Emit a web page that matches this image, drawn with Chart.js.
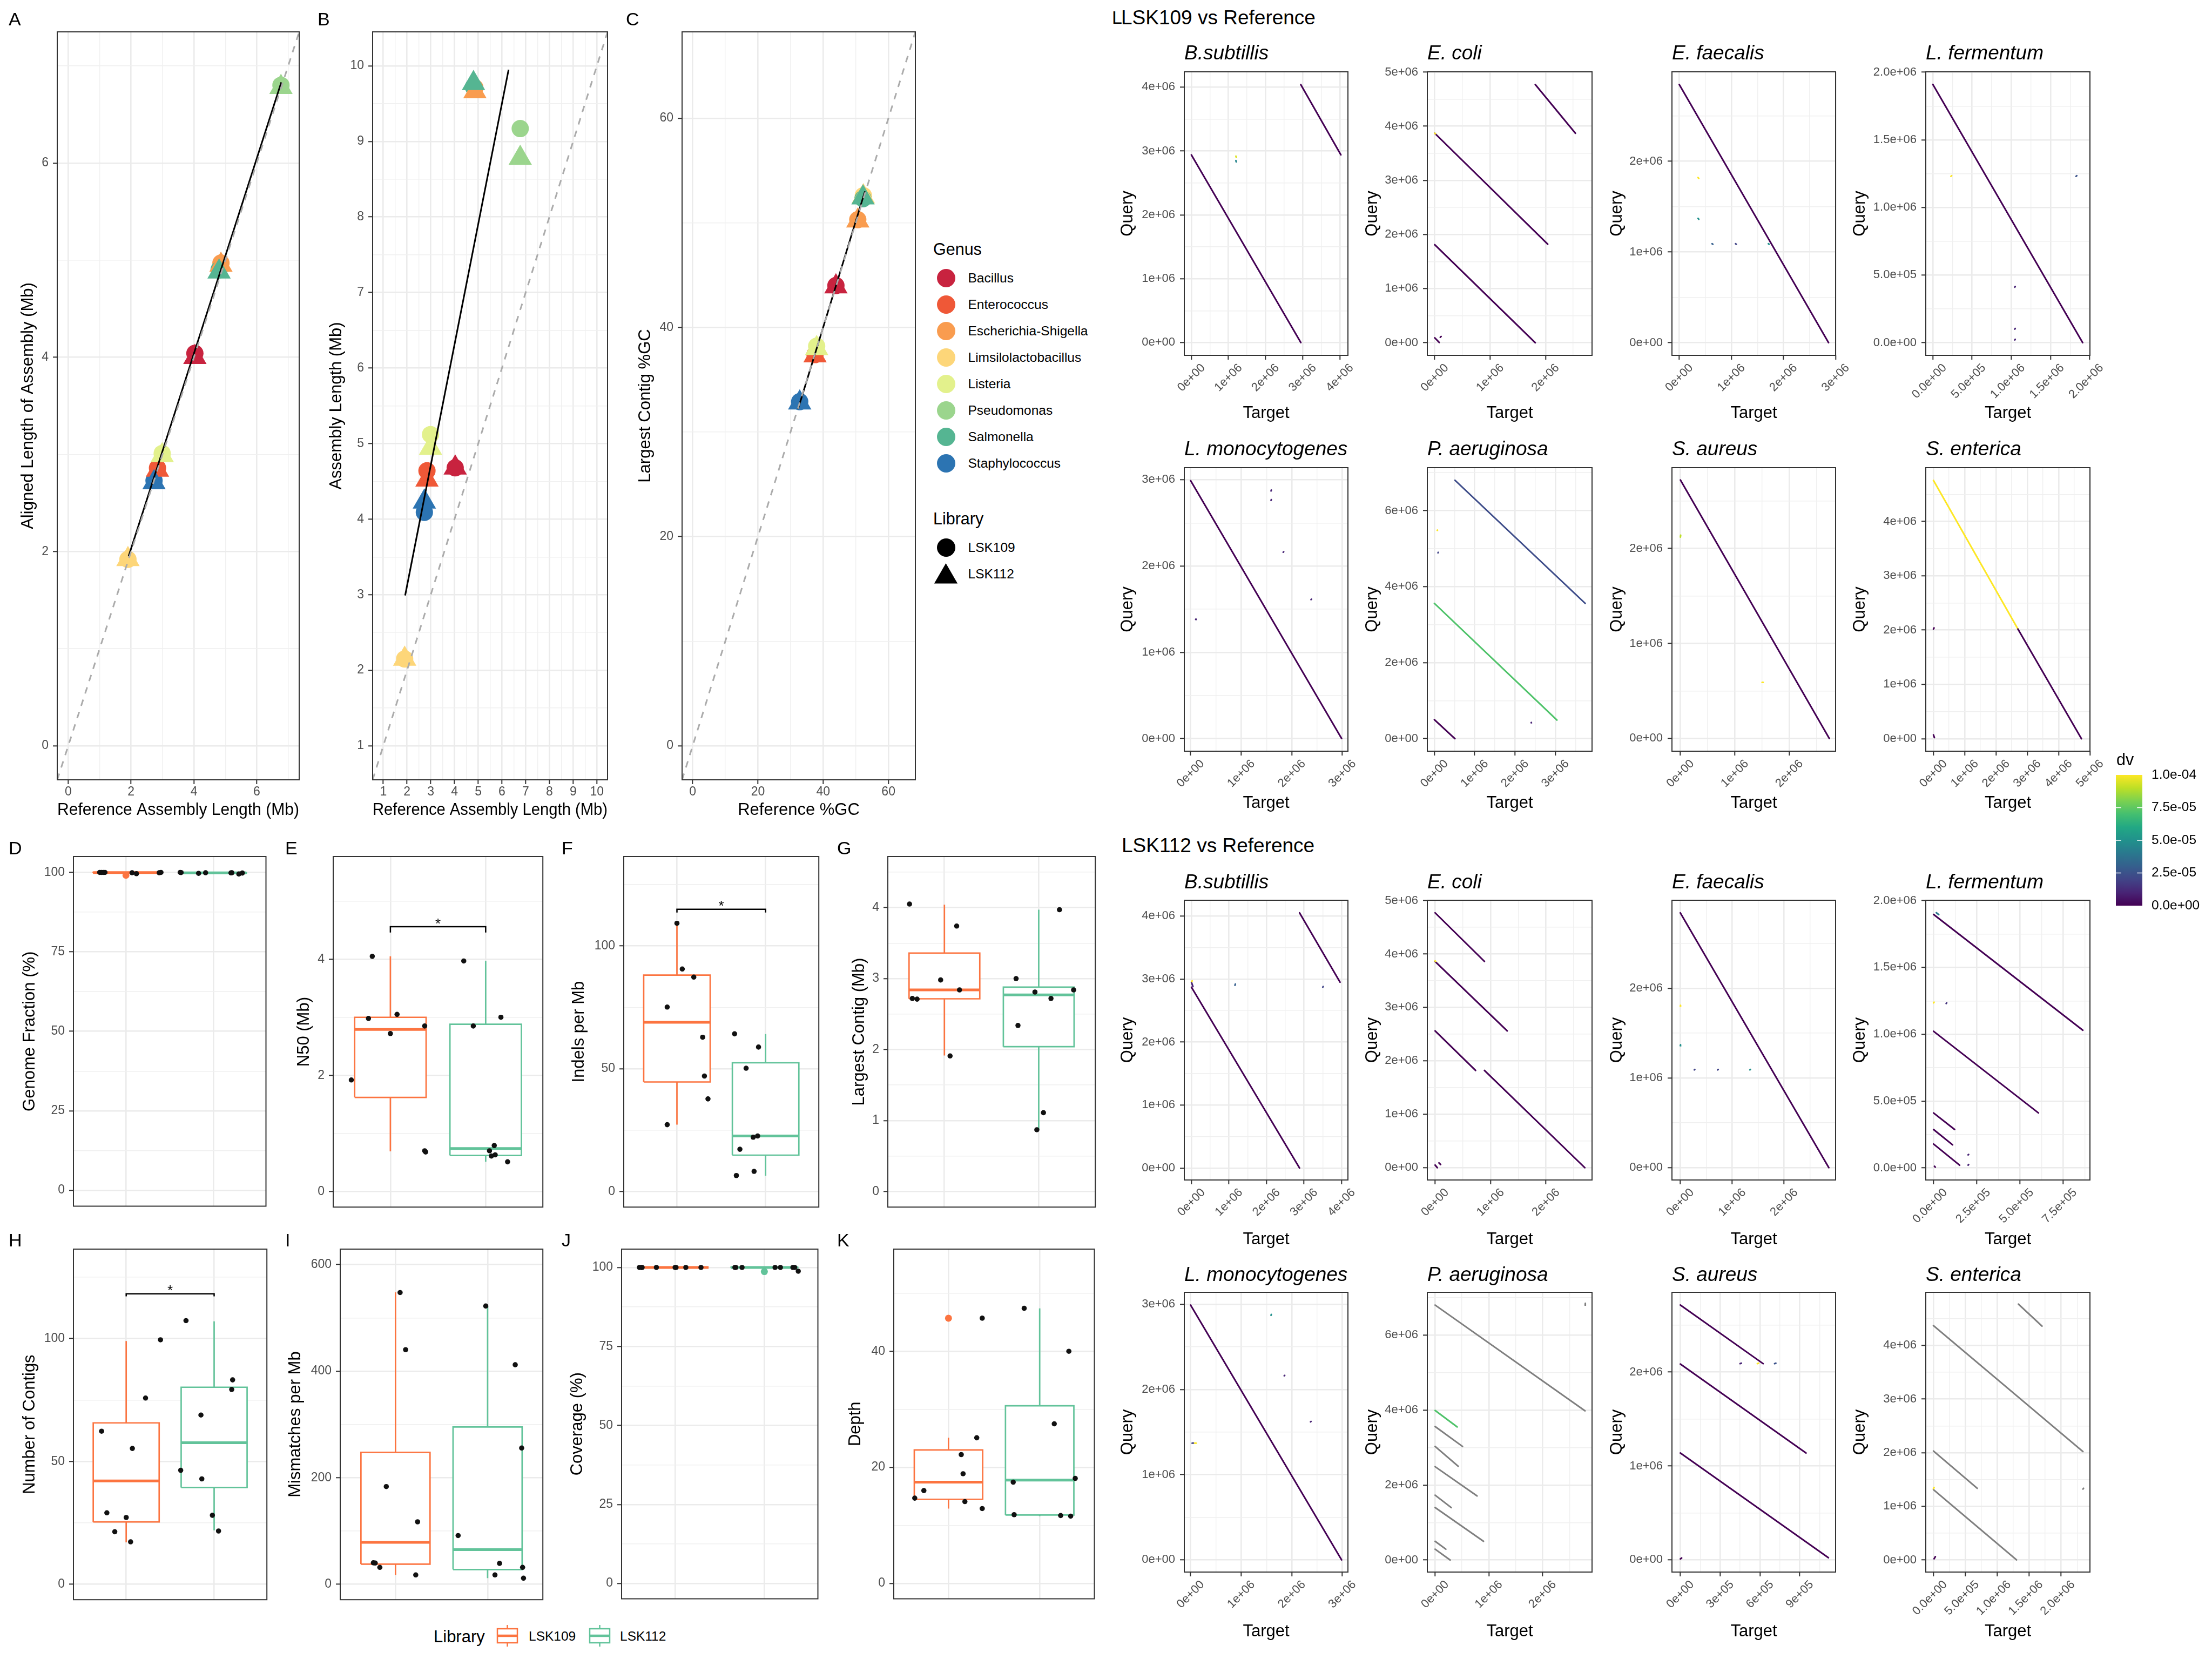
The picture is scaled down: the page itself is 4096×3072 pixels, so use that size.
<!DOCTYPE html>
<html><head><meta charset="utf-8"><title>Assembly comparison</title>
<script src="https://cdn.jsdelivr.net/npm/chart.js@4.4.1/dist/chart.umd.min.js"></script>
<style>
html,body{margin:0;padding:0;background:#fff;}
#root{position:relative;width:4096px;height:3072px;overflow:hidden;background:#fff;font-family:"Liberation Sans",Arial,Helvetica,sans-serif;}
#root canvas{position:absolute;}
.t{position:absolute;white-space:nowrap;line-height:1;color:#000;}
.m{position:absolute;}
</style></head>
<body><div id="root"></div>
<script>
// ================= DATA =================
const genera = ['Bacillus','Enterococcus','Escherichia-Shigella','Limsilolactobacillus','Listeria','Pseudomonas','Salmonella','Staphylococcus'];
const genusColors = ['#C8233F','#EF5837','#F99C4F','#FDD679','#E3F18C','#9BD58D','#55B592','#2C74B2'];
const libraries = ['LSK109','LSK112'];
const libraryColors = ['#FC7440','#62C39A'];

// Panels A-C (per genus, same order as genera)
const refLengthMb      = [4.03, 2.84, 4.86, 1.90, 2.99, 6.77, 4.80, 2.73];
const alignedLength109 = [4.04, 2.86, 4.97, 1.92, 3.01, 6.80, 4.90, 2.73];
const alignedLength112 = [4.00, 2.84, 4.95, 1.92, 2.99, 6.78, 4.88, 2.71];
const assemblyLength109 = [4.68, 4.64, 9.71, 2.15, 5.12, 9.17, 9.72, 4.09];
const assemblyLength112 = [4.68, 4.52, 9.66, 2.15, 4.94, 8.78, 9.77, 4.23];
const refGC       = [43.9, 37.5, 50.6, 52.3, 38.0, null, 52.2, 32.8];
const contigGC109 = [44.0, 37.4, 50.3, 52.6, 38.2, null, 52.3, 32.9];
const contigGC112 = [43.9, 37.3, 50.2, 52.5, 38.0, null, 52.4, 32.8];
const fitLineA = [[1.92, 1.95], [6.78, 6.83]];
const fitLineB = [[1.92, 2.99], [6.28, 9.95]];
const fitLineC = [[32.3, 32.2], [52.8, 53.0]];
const limitsA = [-0.35, 7.35];
const limitsB = [0.55, 10.45];
const limitsC = [-3.25, 68.25];

// Dot plots: segments [targetStart, queryStart, targetEnd, queryEnd, dv] in Mb (dv null = NA)
const dotSpecies = ['B.subtillis','E. coli','E. faecalis','L. fermentum','L. monocytogenes','P. aeruginosa','S. aureus','S. enterica'];
const dot109_Bsub  = [[0,2.94,2.95,0,0],[2.95,4.04,4.03,2.94,0],[1.2,2.92,1.21,2.9,9.5e-5],[1.2,2.85,1.21,2.83,4.5e-5]];
const dot109_Ecoli = [[0,3.87,2.04,1.82,0],[0,1.81,1.815,0,0],[1.815,4.77,2.54,3.87,0],[0,0.09,0.08,0.005,0],[0.1,0.1,0.115,0.115,0],[0,3.87,0.012,3.86,1e-4]];
const dot109_Efae  = [[0,2.845,2.865,0,0],[0.36,1.82,0.375,1.81,1e-4],[0.36,1.37,0.375,1.36,5e-5],[0.63,1.09,0.645,1.085,3e-5],[1.08,1.09,1.095,1.085,2e-5],[1.71,1.09,1.725,1.085,5e-5]];
const dot109_Lferm = [[0,1.91,1.91,0,0],[0.23,1.23,0.24,1.235,1e-4],[1.825,1.23,1.835,1.235,2.5e-5],[1.045,0.41,1.05,0.415,1e-5],[1.045,0.1,1.05,0.105,1e-5],[1.045,0.02,1.05,0.025,1e-5]];
const dot109_Lmono = [[0,2.99,2.985,0,0],[1.59,2.87,1.595,2.88,1e-5],[1.59,2.76,1.595,2.77,1e-5],[1.83,2.16,1.84,2.165,1e-5],[2.38,1.61,2.39,1.615,1e-5],[0.1,1.38,0.105,1.385,1e-5]];
const dot109_Paer  = [[0.51,6.80,3.74,3.56,2.3e-5],[0,3.56,3.04,0.49,7.2e-5],[0,0.5,0.51,0,0],[0.07,5.48,0.075,5.49,1e-4],[0.09,4.89,0.095,4.9,2e-5],[2.4,0.42,2.405,0.425,1e-5]];
const dot109_Saur  = [[0,2.72,2.735,0,0],[0,2.12,0.005,2.14,9e-5],[1.5,0.59,1.52,0.59,1e-4]];
const dot109_Sent  = [[0,4.756,2.70,2.02,1e-4],[2.70,2.02,4.73,0,0],[0,2.02,0.02,2.04,0],[0,0.07,0.03,0.02,0]];

const dot112_Bsub  = [[0,2.87,2.88,0,0],[2.88,4.05,3.96,2.95,0],[0,2.95,0.04,2.88,1e-5],[0.01,2.96,0.02,2.97,1e-4],[1.16,2.9,1.17,2.92,3e-5],[3.5,2.87,3.51,2.88,2e-5]];
const dot112_Ecoli = [[0,4.77,0.89,3.86,0],[0,3.86,1.30,2.56,0],[0,2.56,0.73,1.82,0],[0.89,1.82,2.70,0,0],[0,0.05,0.04,0,0],[0.07,0.09,0.1,0.06,0],[0,3.87,0.01,3.86,1e-4]];
const dot112_Efae  = [[0,2.84,2.86,0,0],[0,1.8,0.005,1.81,1e-4],[0,1.36,0.005,1.37,5e-5],[0.27,1.09,0.28,1.095,2e-5],[0.72,1.09,0.73,1.095,2e-5],[1.34,1.09,1.35,1.095,5e-5]];
const dot112_Lferm = [[0,1.897,0.864,1.03,0],[0,1.022,0.607,0.411,0],[0,0.411,0.122,0.287,0],[0,0.287,0.11,0.172,0],[0,0.178,0.151,0.02,0],[0.016,1.91,0.03,1.895,4e-5],[0,1.235,0.003,1.24,1e-4],[0.073,1.23,0.076,1.235,1.5e-5],[0.2,0.097,0.203,0.1,1e-5],[0.2,0.02,0.203,0.025,1e-5],[0.005,0.012,0.01,0.005,0]];
const dot112_Lmono = [[0,2.99,2.985,0,0],[1.59,2.87,1.595,2.88,5e-5],[1.85,2.16,1.86,2.165,1e-5],[2.37,1.62,2.38,1.625,1e-5],[0.03,1.37,0.06,1.37,2e-5],[0.08,1.37,0.11,1.37,1e-4]];
const dot112_Paer  = [[0,6.8,2.79,3.98,null],[0,3.99,0.41,3.55,7.2e-5],[0,3.56,0.51,3.03,null],[0,3.03,0.43,2.5,null],[0,2.49,0.78,1.71,null],[0,1.73,0.3,1.4,null],[0,1.4,0.9,0.5,null],[0,0.5,0.2,0.29,null],[0,0.29,0.28,0,null],[2.79,6.8,2.795,6.85,null]];
const dot112_Saur  = [[0,2.715,0.624,2.09,0],[0,2.086,0.947,1.138,0],[0,1.138,1.116,0.023,0],[0,0.01,0.01,0.02,0],[0.45,2.09,0.46,2.095,1e-5],[0.58,2.09,0.59,2.095,1e-4],[0.71,2.09,0.72,2.095,2.5e-5]];
const dot112_Sent  = [[0,4.37,2.34,2.02,null],[0,2.03,0.685,1.335,null],[0,1.31,1.30,0,null],[1.33,4.77,1.70,4.36,null],[0,1.33,0.01,1.35,1e-4],[0.01,0.02,0.03,0.06,0],[2.34,1.32,2.35,1.335,null]];

// axis limits [xmin,xmax,ymin,ymax] (Mb) and breaks [xStep,yStep,xDigits,yDigits]
const dotLimits109 = [[-0.19,4.22,-0.20,4.24],[-0.134,2.84,-0.234,5.005],[-0.14,3.0,-0.14,2.985],[-0.09,2.003,-0.094,2.003],[-0.125,3.11,-0.147,3.14],[-0.175,3.91,-0.33,7.13],[-0.155,2.85,-0.134,2.85],[-0.245,5.003,-0.23,4.99]];
const dotLimits112 = [[-0.19,4.17,-0.19,4.25],[-0.14,2.83,-0.23,5.005],[-0.16,2.99,-0.137,2.98],[-0.045,0.905,-0.091,2.003],[-0.125,3.11,-0.143,3.14],[-0.145,2.92,-0.32,7.14],[-0.063,1.17,-0.13,2.85],[-0.12,2.45,-0.227,4.99]];
const dotBreaks109 = [[1,1,0,0],[1,1,0,0],[1,1,0,0],[0.5,0.5,1,1],[1,1,0,0],[1,2,0,0],[1,1,0,0],[1,1,0,0]];
const dotBreaks112 = [[1,1,0,0],[1,1,0,0],[1,1,0,0],[0.25,0.5,1,1],[1,1,0,0],[1,2,0,0],[0.3,1,0,0],[0.5,1,1,0]];
const dvTicks = [0, 2.5e-5, 5e-5, 7.5e-5, 1e-4];

// Box plots: stats [lowerWhisker, Q1, median, Q3, upperWhisker]; jitter x positions & values
const gfStats109 = [99.6, 99.8, 99.95, 100, 100];
const gfStats112 = [99.5, 99.75, 99.85, 99.95, 100];
const gfX109 = [0.70,0.76,0.72,1.07,1.12,1.40,1.38,0.74];
const gfVal109 = [100,100,100,99.9,99.6,100,99.9,100];
const gfX112 = [1.62,1.83,1.91,2.20,2.29,2.33,1.63,2.21];
const gfVal112 = [100,99.7,99.9,99.85,99.5,99.8,99.95,99.9];
const gfOut109 = [[1.0, 99.1]];

const n50Stats109 = [0.69,1.62,2.79,3.0,4.05];
const n50Stats112 = [0.51,0.62,0.74,2.88,3.97];
const n50X109 = [0.59,0.77,0.81,1.00,1.07,1.36,1.36,1.37];
const n50Val109 = [1.92,2.98,4.05,2.72,3.05,2.85,0.70,0.68];
const n50X112 = [1.77,1.87,2.16,2.04,2.09,2.06,2.10,2.23];
const n50Val112 = [3.97,2.85,3.0,0.70,0.79,0.61,0.63,0.51];
const n50Sig = [4.46, 4.56, 4.67];

const indStats109 = [27.2,44.6,68.9,88.1,109.2];
const indStats112 = [6.4,14.8,22.6,52.4,64.1];
const indX109 = [1.0,1.06,1.19,0.89,1.29,1.31,1.35,0.89];
const indVal109 = [109.2,90.6,87.3,75.1,62.8,47.0,37.7,27.2];
const indX112 = [1.65,1.92,1.78,1.86,1.91,1.71,1.87,1.67];
const indVal112 = [64.2,58.8,50.2,22.1,22.6,17.2,8.2,6.5];
const indSig = [113.6, 114.9, 117.7];

const lcStats109 = [1.915,2.715,2.84,3.36,4.04];
const lcStats112 = [0.87,2.04,2.77,2.88,3.97];
const lcX109 = [0.63,1.13,0.96,1.16,0.66,0.71,1.06];
const lcVal109 = [4.05,3.74,2.98,2.84,2.72,2.71,1.91];
const lcX112 = [2.22,1.76,1.96,2.37,2.13,1.78,2.05,1.98];
const lcVal112 = [3.97,3.0,2.81,2.84,2.72,2.34,1.11,0.87];

const ncStats109 = [17.1,25.4,42.1,65.7,99.0];
const ncStats112 = [22.0,39.4,57.6,80.2,107.0];
const ncX109 = [0.72,0.78,0.87,1.0,1.05,1.07,1.22,1.39];
const ncVal109 = [62.3,29.1,21.4,27.2,17.3,55.3,75.8,99.5];
const ncX112 = [1.62,1.68,1.85,1.86,1.98,2.05,2.20,2.21];
const ncVal112 = [46.4,107.3,68.9,42.9,28.1,21.7,79.3,83.2];
const ncSig = [117.2, 118.2, 120.9];

const mmStats109 = [17.7,37.9,78.9,247.7,548];
const mmStats112 = [11.6,27.8,65.2,295.2,522];
const mmX109 = [0.76,0.78,0.83,0.90,1.05,1.11,1.22,1.24];
const mmVal109 = [40.4,40,31.9,183.5,547.5,440.3,17.7,117.3];
const mmX112 = [1.68,1.98,2.08,2.13,2.30,2.37,2.38,2.39];
const mmVal112 = [91.5,522.2,17.7,39.4,412,255.8,31.9,11.6];

const covStats109 = [99.9,100,100,100,100];
const covStats112 = [99.7,99.95,100,100,100];
const covX109 = [0.60,0.63,0.79,1.01,1.12,1.29,0.62,1.0];
const covVal109 = [100,100,100,100,100,100,100,100];
const covX112 = [1.67,1.75,2.12,2.18,2.32,2.34,2.38,1.68];
const covVal112 = [100,100,100,100,100,100,98.8,100];
const covOut112 = [[2.0, 98.7]];

const dpStats109 = [12.9,14.5,17.45,23.0,25.1];
const dpStats112 = [11.6,11.8,17.8,30.6,47.4];
const dpX109 = [0.63,0.73,1.14,1.16,1.18,1.31,1.37,1.37];
const dpVal109 = [14.7,16.0,22.2,18.9,14.1,25.1,12.9,45.7];
const dpX112 = [1.71,1.72,1.83,2.16,2.23,2.32,2.34,2.39];
const dpVal112 = [17.45,11.85,47.4,27.5,11.7,40.0,11.6,18.1];
const dpOut109 = [[1.0, 45.7]];

// ================= HELPERS =================
Chart.defaults.font.family = "'Liberation Sans', Arial, Helvetica, sans-serif";
Chart.defaults.animation = false;
const root = document.getElementById('root');

function steps(min, max, step, off) {
  const out = [];
  const k0 = Math.ceil(min / step - off - 1e-9);
  for (let k = k0; (k + off) * step <= max + 1e-9; k++) {
    const v = +(((k + off) * step).toFixed(9));
    if (v >= min - 1e-9) out.push(v);
  }
  return out;
}
function sci(v, d) {
  if (Math.abs(v) < 1e-15) return (0).toFixed(d) + 'e+00';
  const s = v.toExponential(d);
  const m = s.match(/^(-?[\d.]+)e([+-])(\d+)$/);
  return m[1] + 'e' + m[2] + m[3].padStart(2, '0');
}
const viridisStops = ['#440154','#482475','#414487','#355F8D','#2A788E','#21918C','#22A884','#44BF70','#7AD151','#BDDF26','#FDE725'];
function hex2rgb(h){return [parseInt(h.slice(1,3),16),parseInt(h.slice(3,5),16),parseInt(h.slice(5,7),16)];}
function viridis(t) {
  t = Math.max(0, Math.min(1, t));
  const p = t * 10, i = Math.min(9, Math.floor(p)), f = p - i;
  const a = hex2rgb(viridisStops[i]), b = hex2rgb(viridisStops[i+1]);
  return 'rgb(' + a.map((v,j)=>Math.round(v + (b[j]-v)*f)).join(',') + ')';
}
function dvColor(dv){ return dv === null ? '#7F7F7F' : viridis(dv / 1e-4); }

function linAxis(o) {
  const list = o.major.map(v=>({value:v, maj:true})).concat((o.minor||[]).map(v=>({value:v, maj:false}))).sort((a,b)=>a.value-b.value);
  const horiz = o.pos === 'bottom';
  const showTicks = o.ticks !== false;
  return {
    type:'linear', position:o.pos, min:o.min, max:o.max, bounds:'data',
    afterBuildTicks: s => { s.ticks = list.map(t=>({value:t.value, maj:t.maj})); },
    afterFit: s => { if (horiz) s.height = o.size; else s.width = o.size; s.paddingLeft=0; s.paddingRight=0; s.paddingTop=0; s.paddingBottom=0; },
    ticks: { display: o.labels !== false, autoSkip:false, minRotation:o.rot||0, maxRotation:o.rot||0, padding:o.pad||4, labelOffset:o.lo||0,
      color:'#4D4D4D', font:{size:o.tickSize||23, lineHeight:1},
      callback:(v,i,arr)=> (arr[i] && arr[i].maj) ? o.fmt(v) : '' },
    grid: { drawTicks: showTicks, tickLength: 8,
      color: c => (c.tick && c.tick.maj) ? '#EBEBEB' : '#F0F0F0',
      lineWidth: c => (c.tick && c.tick.maj) ? 2.6 : 1.4,
      tickColor: c => (c.tick && c.tick.maj) ? '#333333' : 'rgba(0,0,0,0)', tickWidth: 2 },
    border: { display:false },
    title: { display: !!o.title, text: o.title || '', color:'#000', font:{size:o.titleSize||31, lineHeight:1}, padding:0 }
  };
}
const borderPlugin = { id:'panelBorder', afterDatasetsDraw(chart){ const {ctx, chartArea:a} = chart; ctx.save(); ctx.strokeStyle='#333333'; ctx.lineWidth=2; ctx.strokeRect(a.left, a.top, a.right-a.left, a.bottom-a.top); ctx.restore(); } };

function makeChart(rect, W, H, padT, padR, datasets, xAxis, yAxis, plugins) {
  const c = document.createElement('canvas');
  const left = rect.l - W, top = rect.t - padT;
  const width = rect.r + padR - left, height = rect.b + H - top;
  c.width = width; c.height = height;
  c.style.left = left + 'px'; c.style.top = top + 'px';
  c.style.width = width + 'px'; c.style.height = height + 'px';
  root.appendChild(c);
  const n = datasets.length;
  datasets.forEach((d, i) => { d.order = n - i; });
  new Chart(c, {
    type:'scatter',
    data:{ datasets },
    options:{ responsive:false, animation:false, devicePixelRatio:1, events:[],
      layout:{ padding:{ top:padT, right:padR, left:0, bottom:0 } },
      plugins:{ legend:{display:false}, tooltip:{enabled:false} },
      scales:{ x:xAxis, y:yAxis } },
    plugins: plugins || [borderPlugin]
  });
}
function txt(s, x, y, size, o) {
  o = o || {};
  const d = document.createElement('div'); d.className = 't'; d.textContent = s;
  d.style.fontSize = size + 'px'; d.style.left = x + 'px'; d.style.top = (y - size/2) + 'px';
  if (o.italic) d.style.fontStyle = 'italic';
  if (o.color) d.style.color = o.color;
  root.appendChild(d);
}
function circ(x, y, r, color) {
  const d = document.createElement('div'); d.className = 'm';
  Object.assign(d.style, {left:(x-r)+'px', top:(y-r)+'px', width:(2*r)+'px', height:(2*r)+'px', borderRadius:'50%', background:color});
  root.appendChild(d);
}
function tri(x, y, r, color) {
  const d = document.createElement('div'); d.className = 'm';
  Object.assign(d.style, {left:(x-0.866*r)+'px', top:(y-r)+'px', width:(1.732*r)+'px', height:(1.5*r)+'px', background:color, clipPath:'polygon(50% 0, 100% 100%, 0 100%)'});
  root.appendChild(d);
}

// ================= PANELS A-C =================
const intFmt = v => String(Math.round(v));
function scatterPanel(rect, W, lim, xs, y109, y112, fit, xTitle, yTitle, step, minorStep) {
  const mk = ys => xs.map((x,i)=>({x, y:ys[i], c:genusColors[i]})).filter(p=>p.x!=null && p.y!=null);
  const p109 = mk(y109), p112 = mk(y112);
  const ds = [
    { data:p109, showLine:false, pointStyle:'circle', pointRadius:16, pointBorderWidth:0, pointBackgroundColor:p109.map(p=>p.c) },
    { data:p112, showLine:false, pointStyle:'triangle', pointRadius:25, pointBorderWidth:0, pointBackgroundColor:p112.map(p=>p.c) },
    { data:fit.map(([x,y])=>({x,y})), showLine:true, borderColor:'#000', borderWidth:3, pointRadius:0 },
    { data:[{x:lim[0],y:lim[0]},{x:lim[1],y:lim[1]}], showLine:true, borderColor:'#ABABAB', borderWidth:3, borderDash:[12,12], pointRadius:0 }
  ];
  const major = steps(lim[0], lim[1], step, 0), minor = steps(lim[0], lim[1], minorStep, 0).filter(v => !major.includes(v));
  makeChart(rect, W, 72, 16, 30, ds,
    linAxis({pos:'bottom', min:lim[0], max:lim[1], major, minor, fmt:intFmt, size:72, title:xTitle, pad:3}),
    linAxis({pos:'left', min:lim[0], max:lim[1], major, minor, fmt:intFmt, size:W, title:yTitle, pad:8}));
}
scatterPanel({l:106,r:554,t:50,b:1444}, 69, limitsA, refLengthMb, alignedLength109, alignedLength112, fitLineA, 'Reference Assembly Length (Mb)', 'Aligned Length of Assembly (Mb)', 2, 1);
scatterPanel({l:690,r:1125,t:50,b:1444}, 82, limitsB, refLengthMb, assemblyLength109, assemblyLength112, fitLineB, 'Reference Assembly Length (Mb)', 'Assembly Length (Mb)', 1, 0.5);
scatterPanel({l:1263,r:1695,t:50,b:1444}, 83, limitsC, refGC, contigGC109, contigGC112, fitLineC, 'Reference %GC', 'Largest Contig %GC', 20, 10);

// ================= DOT PLOTS =================
const dotCols = [{l:2193,r:2496,W:120},{l:2643,r:2948,W:117},{l:3096,r:3399,W:117},{l:3566,r:3870,W:137}];
const dotRows = [{t:133,b:658,H:123,ty:97.6},{t:866,b:1391,H:112,ty:830},{t:1667,b:2185,H:126,ty:1632},{t:2393,b:2911,H:126,ty:2359}];
const dotSets = [
  [dot109_Bsub, dot109_Ecoli, dot109_Efae, dot109_Lferm, dot109_Lmono, dot109_Paer, dot109_Saur, dot109_Sent],
  [dot112_Bsub, dot112_Ecoli, dot112_Efae, dot112_Lferm, dot112_Lmono, dot112_Paer, dot112_Saur, dot112_Sent]
];
const dotLims = [dotLimits109, dotLimits112];
const dotBrks = [dotBreaks109, dotBreaks112];
for (let L = 0; L < 2; L++) {
  for (let i = 0; i < 8; i++) {
    const row = dotRows[L*2 + Math.floor(i/4)], col = dotCols[i%4];
    const rect = {l:col.l, r:col.r, t:row.t, b:row.b};
    const lim = dotLims[L][i], [xs, ys, xd, yd] = dotBrks[L][i];
    const ds = dotSets[L][i].map(s => ({ data:[{x:s[0],y:s[1]},{x:s[2],y:s[3]}], showLine:true, borderColor:dvColor(s[4]), borderWidth:3, borderCapStyle:'round', pointRadius:0 }));
    makeChart(rect, col.W, row.H, 16, 46, ds,
      linAxis({pos:'bottom', min:lim[0], max:lim[1], major:steps(lim[0],lim[1],xs,0), minor:steps(lim[0],lim[1],xs,0.5), fmt:v=>sci(v*1e6,xd), size:row.H, title:'Target', tickSize:22, rot:45, lo:22, pad:4}),
      linAxis({pos:'left', min:lim[2], max:lim[3], major:steps(lim[2],lim[3],ys,0), minor:steps(lim[2],lim[3],ys,0.5), fmt:v=>sci(v*1e6,yd), size:col.W, title:'Query', tickSize:22, pad:9}));
    txt(dotSpecies[i], col.l, row.ty, 37, {italic:true});
  }
}

// colour bar (dv)
(function(){
  const rect = {l:3918, r:3967, t:1435, b:1677};
  const c = document.createElement('canvas');
  const left = rect.l, top = rect.t - 16, width = 170, height = rect.b - rect.t + 32;
  c.width = width; c.height = height; c.style.left = left+'px'; c.style.top = top+'px'; c.style.width = width+'px'; c.style.height = height+'px';
  root.appendChild(c);
  const tickPlugin = { id:'cbTicks', afterDatasetsDraw(chart){ const {ctx, chartArea:a} = chart; const ys = chart.scales.y; const w = a.right - a.left;
    ctx.save(); ctx.strokeStyle = '#fff'; ctx.lineWidth = 1.5;
    dvTicks.slice(1, -1).forEach(v => { const y = ys.getPixelForValue(v); ctx.beginPath(); ctx.moveTo(a.left, y); ctx.lineTo(a.left + w/5, y); ctx.moveTo(a.right - w/5, y); ctx.lineTo(a.right, y); ctx.stroke(); });
    ctx.restore(); } };
  new Chart(c, {
    type:'bar',
    data:{ labels:['dv'], datasets:[{ data:[[dvTicks[0], dvTicks[dvTicks.length-1]]], barPercentage:1, categoryPercentage:1, borderWidth:0,
      backgroundColor: ctx => { const a = ctx.chart.chartArea; if (!a) return '#440154'; const g = ctx.chart.ctx.createLinearGradient(0, a.bottom, 0, a.top); viridisStops.forEach((s,i)=>g.addColorStop(i/10, s)); return g; } }] },
    options:{ responsive:false, animation:false, devicePixelRatio:1, events:[],
      layout:{ padding:{ top:16, bottom:16, left:0, right:0 } },
      plugins:{ legend:{display:false}, tooltip:{enabled:false} },
      scales:{ x:{ display:false },
        y:{ position:'right', min:0, max:1e-4,
          afterBuildTicks: s => { s.ticks = dvTicks.map(v=>({value:v})); },
          afterFit: s => { s.width = width - (rect.r - rect.l); s.paddingTop=0; s.paddingBottom=0; },
          ticks:{ autoSkip:false, padding:17, color:'#000', font:{size:24.5, lineHeight:1}, callback: v => sci(v, 1) },
          grid:{ display:false, drawTicks:false }, border:{ display:false } } } },
    plugins:[tickPlugin]
  });
})();

// ================= BOX PLOTS =================
function boxPanel(rect, W, range, step, stats, xs, vals, outs, sig, yTitle) {
  const ds = [];
  const hw = 0.375;
  stats.forEach((st, i) => {
    const c = i + 1, col = libraryColors[i];
    const [lo, q1, med, q3, hi] = st;
    const line = (pts, w) => ({ data:pts.map(([x,y])=>({x,y})), showLine:true, borderColor:col, borderWidth:w, pointRadius:0, borderCapStyle:'butt' });
    ds.push(line([[c,q3],[c,hi]], 2.7));
    ds.push(line([[c,lo],[c,q1]], 2.7));
    const box = line([[c-hw,q1],[c+hw,q1],[c+hw,q3],[c-hw,q3],[c-hw,q1]], 2.7);
    box.fill = 'shape'; box.backgroundColor = '#FFFFFF'; box.borderJoinStyle = 'miter';
    ds.push(box);
    ds.push(line([[c-hw,med],[c+hw,med]], 5));
  });
  outs.forEach((o, i) => { if (o) ds.push({ data:o.map(([x,y])=>({x,y})), showLine:false, pointRadius:6.5, pointBorderWidth:0, pointBackgroundColor:libraryColors[i] }); });
  xs.forEach((xv, i) => { ds.push({ data:xv.map((x,j)=>({x, y:vals[i][j]})), showLine:false, pointRadius:4.8, pointBorderWidth:0, pointBackgroundColor:'#111111' }); });
  const plugins = [borderPlugin];
  if (sig) {
    ds.push({ data:[{x:1,y:sig[0]},{x:1,y:sig[1]},{x:2,y:sig[1]},{x:2,y:sig[0]}], showLine:true, borderColor:'#000', borderWidth:2.5, pointRadius:0 });
    plugins.push({ id:'star', afterDatasetsDraw(chart){ const ctx = chart.ctx; const px = chart.scales.x.getPixelForValue(1.5), py = chart.scales.y.getPixelForValue(sig[2]);
      ctx.save(); ctx.fillStyle = '#000'; ctx.font = "26px 'Liberation Sans', Arial, sans-serif"; ctx.textAlign = 'center'; ctx.textBaseline = 'alphabetic'; ctx.fillText('*', px, py + 0.57*26); ctx.restore(); } });
  }
  const major = steps(range[0], range[1], step, 0), minor = steps(range[0], range[1], step, 0.5);
  makeChart(rect, W, 3, 16, 4, ds,
    linAxis({pos:'bottom', min:0.4, max:2.6, major:[1,2], minor:[], fmt:()=> '', size:3, labels:false, ticks:false}),
    linAxis({pos:'left', min:range[0], max:range[1], major, minor, fmt:intFmt, size:W, title:yTitle, pad:8}), plugins);
}
const R1 = {t:1586, b:2237}, R2 = {t:2313, b:2964};
boxPanel({l:136,r:495,...R1}, 96, [-5,105], 25, [gfStats109,gfStats112], [gfX109,gfX112], [gfVal109,gfVal112], [gfOut109,null], null, 'Genome Fraction (%)');
boxPanel({l:617,r:1006,...R1}, 69, [-0.27,5.77], 2, [n50Stats109,n50Stats112], [n50X109,n50X112], [n50Val109,n50Val112], [null,null], n50Sig, 'N50 (Mb)');
boxPanel({l:1155,r:1517,...R1}, 98, [-6.35,136.4], 50, [indStats109,indStats112], [indX109,indX112], [indVal109,indVal112], [null,null], indSig, 'Indels per Mb');
boxPanel({l:1644,r:2029,...R1}, 68, [-0.22,4.72], 1, [lcStats109,lcStats112], [lcX109,lcX112], [lcVal109,lcVal112], [null,null], null, 'Largest Contig (Mb)');
boxPanel({l:136,r:495,...R2}, 96, [-6.25,136.4], 50, [ncStats109,ncStats112], [ncX109,ncX112], [ncVal109,ncVal112], [null,null], ncSig, 'Number of Contigs');
boxPanel({l:630,r:1006,...R2}, 98, [-28.8,629], 200, [mmStats109,mmStats112], [mmX109,mmX112], [mmVal109,mmVal112], [null,null], null, 'Mismatches per Mb');
boxPanel({l:1151,r:1517,...R2}, 97, [-4.85,105.8], 25, [covStats109,covStats112], [covX109,covX112], [covVal109,covVal112], [null,covOut112], null, 'Coverage (%)');
boxPanel({l:1655,r:2029,...R2}, 86, [-2.64,57.6], 20, [dpStats109,dpStats112], [dpX109,dpX112], [dpVal109,dpVal112], [dpOut109,null], null, 'Depth');

// ================= TEXT, LEGENDS =================
[['A',16,34.5],['B',588,34.5],['C',1159,34.5],['D',16,1570],['E',528,1570],['F',1040,1570],['G',1550,1570],
 ['H',16,2296],['I',528,2296],['J',1040,2296],['K',1550,2296],['L',2059,32]].forEach(([s,x,y]) => txt(s, x, y, 34));
txt('LSK109 vs Reference', 2076, 32, 37);
txt('LSK112 vs Reference', 2077, 1565, 37);

// Genus / Library legend
txt('Genus', 1728, 461.5, 30.5);
genera.forEach((g, i) => { circ(1751.5, 515 + 49*i, 17, genusColors[i]); txt(g, 1792.5, 515 + 49*i, 24.5); });
txt('Library', 1728, 960, 30.5);
circ(1751.5, 1014, 17, '#000'); txt(libraries[0], 1792.5, 1014, 24.5);
tri(1751.5, 1068, 25, '#000'); txt(libraries[1], 1792.5, 1063, 24.5);

// dv legend title
txt('dv', 3919, 1406, 30.5);

// bottom Library legend (boxplot keys)
txt('Library', 803, 3030, 31);
function boxKey(x0, color, label, tx) {
  const ns = 'http://www.w3.org/2000/svg';
  const svg = document.createElementNS(ns, 'svg');
  svg.setAttribute('width', 44); svg.setAttribute('height', 44);
  Object.assign(svg.style, {position:'absolute', left:(x0-2)+'px', top:'3007px'});
  const add = (tag, attrs) => { const e = document.createElementNS(ns, tag); for (const k in attrs) e.setAttribute(k, attrs[k]); svg.appendChild(e); };
  add('line', {x1:21.5, y1:2, x2:21.5, y2:9, stroke:color, 'stroke-width':2.5});
  add('line', {x1:21.5, y1:35, x2:21.5, y2:42, stroke:color, 'stroke-width':2.5});
  add('rect', {x:3, y:9, width:37, height:26, fill:'#fff', stroke:color, 'stroke-width':2.5});
  add('line', {x1:3, y1:22, x2:40, y2:22, stroke:color, 'stroke-width':4.5});
  root.appendChild(svg);
  txt(label, tx, 3030, 24.5);
}
boxKey(920, libraryColors[0], libraries[0], 979);
boxKey(1091, libraryColors[1], libraries[1], 1148);
</script>
</body></html>
